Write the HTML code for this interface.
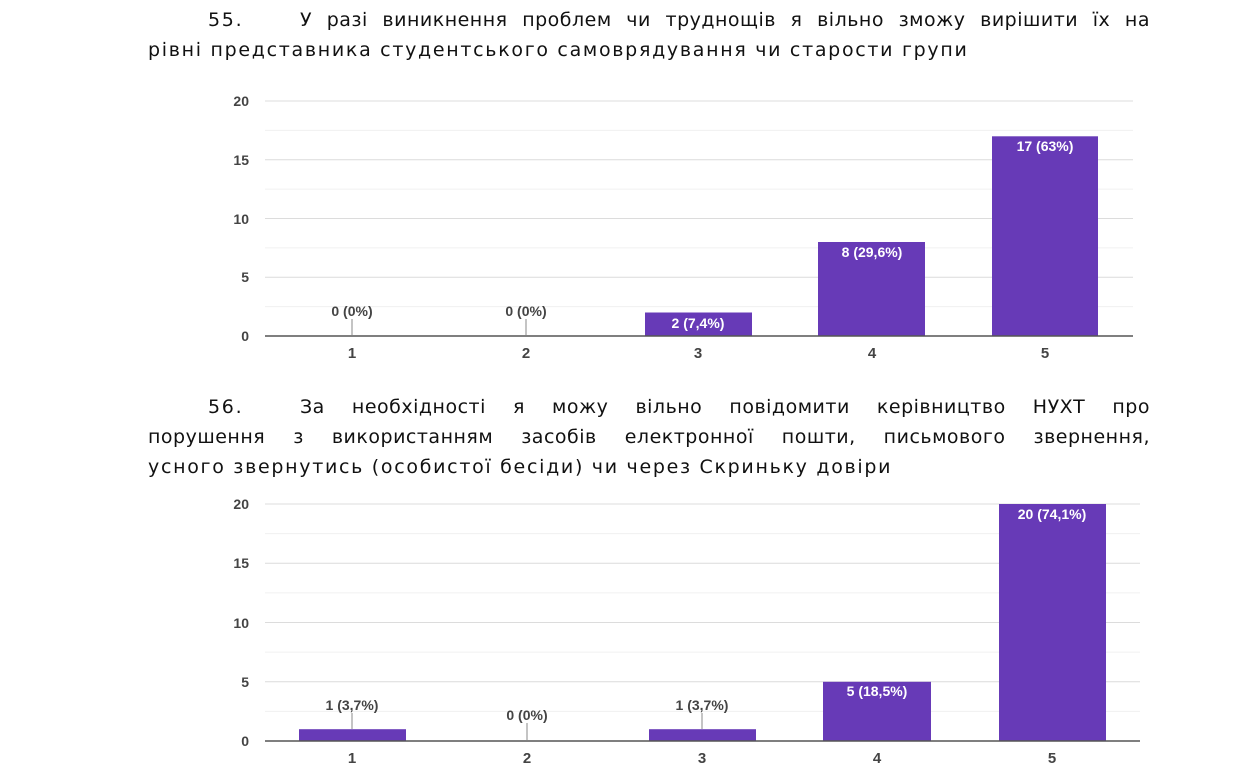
<!DOCTYPE html>
<html><head><meta charset="utf-8"><style>
body{margin:0;width:1241px;height:770px;background:#fff;overflow:hidden;position:relative;font-family:"DejaVu Sans","Liberation Sans",sans-serif}
.l{position:absolute;font-size:19px;line-height:30px;color:#111;white-space:nowrap;letter-spacing:1.7px}
.j{text-align:justify;text-align-last:justify;white-space:normal;letter-spacing:0.5px}
svg{position:absolute;left:0;top:0}
</style></head><body>
<div class="l" style="left:208px;top:5px">55.</div>
<div class="l j" style="left:300px;width:850px;top:5px">У разі виникнення проблем чи труднощів я вільно зможу вирішити їх на</div>
<div class="l" style="left:148px;top:35px">рівні представника студентського самоврядування чи старости групи</div>
<div class="l" style="left:208px;top:392px">56.</div>
<div class="l j" style="left:300px;width:850px;top:392px">За необхідності я можу вільно повідомити керівництво НУХТ про</div>
<div class="l j" style="left:148px;width:1002px;top:422px">порушення з використанням засобів електронної пошти, письмового звернення,</div>
<div class="l" style="left:148px;top:452px">усного звернутись (особистої бесіди) чи через Скриньку довіри</div>
<svg width="1241" height="770" font-family="Liberation Sans, Arial, sans-serif">
<g stroke="#f0f0f0" stroke-width="1">
<line x1="265" x2="1133" y1="130.4" y2="130.4"/><line x1="265" x2="1133" y1="189.1" y2="189.1"/><line x1="265" x2="1133" y1="247.9" y2="247.9"/><line x1="265" x2="1133" y1="306.6" y2="306.6"/>
<line x1="265" x2="1140" y1="533.6" y2="533.6"/><line x1="265" x2="1140" y1="592.9" y2="592.9"/><line x1="265" x2="1140" y1="652.1" y2="652.1"/><line x1="265" x2="1140" y1="711.4" y2="711.4"/>
</g>
<g stroke="#dcdcdc" stroke-width="1">
<line x1="265" x2="1133" y1="101" y2="101"/><line x1="265" x2="1133" y1="159.8" y2="159.8"/><line x1="265" x2="1133" y1="218.5" y2="218.5"/><line x1="265" x2="1133" y1="277.3" y2="277.3"/>
<line x1="265" x2="1140" y1="504" y2="504"/><line x1="265" x2="1140" y1="563.3" y2="563.3"/><line x1="265" x2="1140" y1="622.5" y2="622.5"/><line x1="265" x2="1140" y1="681.8" y2="681.8"/>
</g>
<g font-size="14" fill="#444" text-anchor="end" font-weight="bold">
<text x="249" y="106">20</text><text x="249" y="165">15</text><text x="249" y="224">10</text><text x="249" y="282">5</text><text x="249" y="341">0</text>
<text x="249" y="509">20</text><text x="249" y="568">15</text><text x="249" y="628">10</text><text x="249" y="687">5</text><text x="249" y="746">0</text>
</g>
<g fill="#673ab7">
<rect x="645" y="312.5" width="107" height="23.5"/><rect x="818" y="242" width="107" height="94"/><rect x="992" y="136.3" width="106" height="199.7"/>
<rect x="299" y="729.2" width="107" height="11.8"/><rect x="649" y="729.2" width="107" height="11.8"/><rect x="823" y="681.8" width="108" height="59.2"/><rect x="999" y="504" width="107" height="237"/>
</g>
<g stroke="#888" stroke-width="1">
<line x1="352" x2="352" y1="319" y2="335"/><line x1="526" x2="526" y1="319" y2="335"/>
<line x1="352" x2="352" y1="713" y2="729"/><line x1="527" x2="527" y1="723" y2="740"/><line x1="702" x2="702" y1="713" y2="729"/>
</g>
<line x1="265" x2="1133" y1="336" y2="336" stroke="#555" stroke-width="1.5"/>
<line x1="265" x2="1140" y1="741" y2="741" stroke="#555" stroke-width="1.5"/>
<g font-size="14" fill="#444" text-anchor="middle" font-weight="bold">
<text x="352" y="316">0 (0%)</text><text x="526" y="316">0 (0%)</text>
<text x="352" y="710">1 (3,7%)</text><text x="527" y="720">0 (0%)</text><text x="702" y="710">1 (3,7%)</text>
</g>
<g font-size="14" fill="#fff" text-anchor="middle" font-weight="bold">
<text x="698" y="328">2 (7,4%)</text><text x="872" y="257">8 (29,6%)</text><text x="1045" y="151">17 (63%)</text>
<text x="877" y="696">5 (18,5%)</text><text x="1052" y="519">20 (74,1%)</text>
</g>
<g font-size="15" fill="#444" text-anchor="middle" font-weight="bold">
<text x="352" y="358">1</text><text x="526" y="358">2</text><text x="698" y="358">3</text><text x="872" y="358">4</text><text x="1045" y="358">5</text>
<text x="352" y="763">1</text><text x="527" y="763">2</text><text x="702" y="763">3</text><text x="877" y="763">4</text><text x="1052" y="763">5</text>
</g>
</svg>
</body></html>
